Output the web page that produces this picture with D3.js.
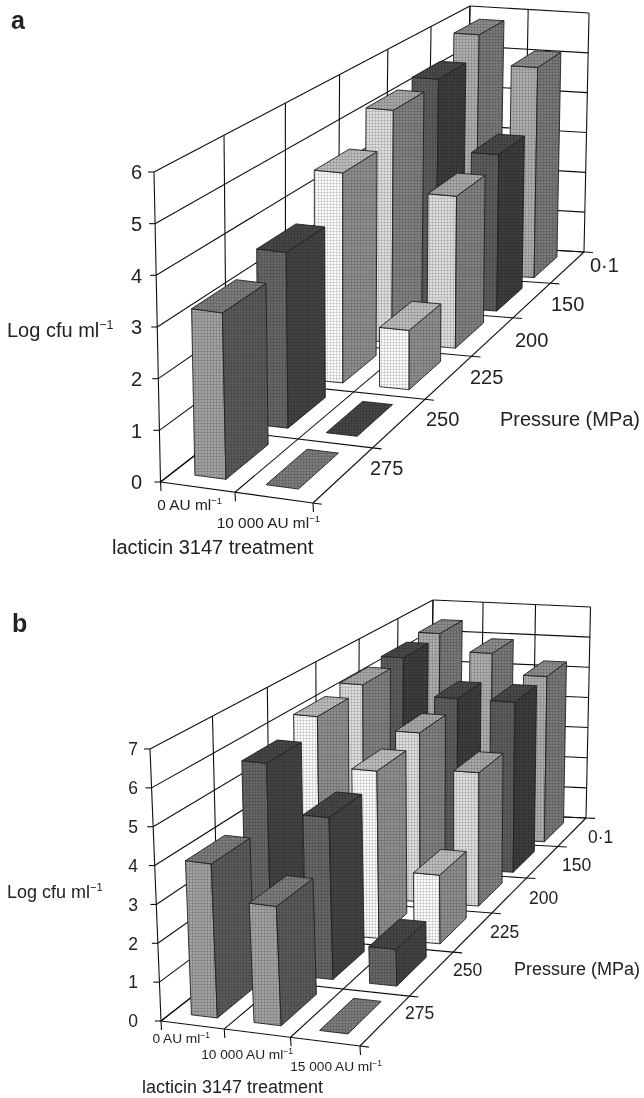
<!DOCTYPE html>
<html><head><meta charset="utf-8">
<script src="https://cdn.jsdelivr.net/npm/d3@7"></script>
<style>html,body{margin:0;padding:0;background:#fff}svg{display:block}text{font-family:"Liberation Sans",Arial,sans-serif;fill:#222}</style>
</head><body><div id="c"></div>
<script>
const pressures=["275","250","225","200","150","0·1"];
const treatmentsA=["0 AU ml","10 000 AU ml"];
const treatmentsB=["0 AU ml","10 000 AU ml","15 000 AU ml"];
const valuesA0=[3.25,3.6,4.5,5.2,5.3,5.8];
const valuesA1=[0,0,1.27,3.4,3.65,5.1];
const valuesB0=[4.0,5.7,6.15,6.3,6.4,6.5];
const valuesB1=[3.1,4.4,4.75,5.0,5.25,5.95];
const valuesB2=[0,1.0,1.95,3.95,5.25,5.3];
const ticksA=[0,1,2,3,4,5,6];
const ticksB=[0,1,2,3,4,5,6,7];
// front, side, top greys for each pressure row
const rowFront=["#a2a2a2","#666666","#fbfbfb","#dcdcdc","#5c5c5c","#adadad"];
const rowSide =["#5a5a5a","#434343","#8e8e8e","#808080","#3c3c3c","#787878"];
const rowTop  =["#7c7c7c","#474747","#bdbdbd","#a8a8a8","#4a4a4a","#8c8c8c"];

const W=644,H=1098;
const svg=d3.select("#c").append("svg").attr("width",W).attr("height",H).attr("viewBox",`0 0 ${W} ${H}`);
const defs=svg.append("defs");
const mesh=defs.append("pattern").attr("id","mesh").attr("width",3).attr("height",3).attr("patternUnits","userSpaceOnUse");
mesh.append("path").attr("d","M0 .5H3M.5 0V3").attr("stroke","#000").attr("stroke-opacity",.12).attr("stroke-width",1);
defs.append("filter").attr("id","soft").append("feGaussianBlur").attr("stdDeviation",.45);
const root=svg.append("g").attr("filter","url(#soft)");

function quad(p){ // unit square -> quad p[0](0,0) p[1](1,0) p[2](1,1) p[3](0,1)
  const [a,b,c,d]=p;
  const dx1=b[0]-c[0],dx2=d[0]-c[0],sx=a[0]-b[0]+c[0]-d[0];
  const dy1=b[1]-c[1],dy2=d[1]-c[1],sy=a[1]-b[1]+c[1]-d[1];
  const den=dx1*dy2-dx2*dy1;
  const g=(sx*dy2-dx2*sy)/den,h=(dx1*sy-sx*dy1)/den;
  const A=b[0]-a[0]+g*b[0],B=d[0]-a[0]+h*d[0],D=b[1]-a[1]+g*b[1],E=d[1]-a[1]+h*d[1];
  return (u,v)=>{const w=g*u+h*v+1;return [(A*u+B*v+a[0])/w,(D*u+E*v+a[1])/w];};
}
const line=d3.line();
function drawPanel(cfg){
  const g=root.append("g");
  const fl=quad(cfg.floor),ce=quad(cfg.ceil);
  const yMax=d3.max(cfg.ticks);
  const y=d3.scaleLinear().domain([0,yMax]).range([0,1]);
  const x=d3.scaleBand().domain(cfg.treatments).range(cfg.xRange).paddingInner(cfg.xPad);
  const xCell=d3.scaleBand().domain(cfg.treatments).range([0,1]);
  const z=d3.scaleBand().domain(pressures).range([.03,.965]).paddingInner(.333);
  const zCell=d3.scaleBand().domain(pressures).range([0,1]);
  const P=(u,v,val)=>{const a=fl(u,v),b=ce(u,v),t=y(val);return [a[0]+(b[0]-a[0])*t,a[1]+(b[1]-a[1])*t];};
  const seg=(a,b)=>g.append("path").attr("d",line([a,b])).attr("fill","none").attr("stroke","#111").attr("stroke-width",1.1);
  // walls
  cfg.ticks.forEach(t=>{
    seg(P(0,0,t),P(0,1,t)); seg(P(0,1,t),P(1,1,t));
    const q=P(0,0,t); seg(q,[q[0]-6,q[1]]);
    g.append("text").attr("x",cfg.tickX).attr("y",q[1]).attr("dy",".36em").attr("text-anchor","end").attr("font-size",cfg.tickSize).text(t);
  });
  const us=[0,...cfg.treatments.map(d=>xCell(d)+xCell.bandwidth())];
  const vs=[0,...pressures.map(d=>zCell(d)+zCell.bandwidth())];
  vs.forEach(v=>{seg(P(0,v,0),P(0,v,yMax));});
  us.forEach(u=>{seg(P(u,1,0),P(u,1,yMax));});
  // floor
  vs.forEach(v=>{const a=P(0,v,0),b=P(1,v,0);seg(a,b);
    const dx=b[0]-a[0],dy=b[1]-a[1],l=Math.hypot(dx,dy);
    seg(b,[b[0]+dx/l*9,b[1]+dy/l*9]);});
  us.forEach(u=>{const a=P(u,0,0);seg(a,P(u,1,0));seg(a,[a[0]+.5,a[1]+9]);});
  // bars: back rows first, left to right in each row
  [...pressures].reverse().forEach(p=>{
    const r=pressures.indexOf(p);
    cfg.treatments.forEach((t,ci)=>{
      const val=cfg.values[ci][r];
      const u0=x(t),u1=u0+x.bandwidth(),v0=z(p),v1=v0+z.bandwidth();
      const faces=[];
      if(val>0){
        faces.push({pts:[P(u0,v0,0),P(u1,v0,0),P(u1,v0,val),P(u0,v0,val)],fill:rowFront[r]});
        faces.push({pts:[P(u1,v0,0),P(u1,v1,0),P(u1,v1,val),P(u1,v0,val)],fill:rowSide[r]});
      }
      faces.push({pts:[P(u0,v0,val),P(u1,v0,val),P(u1,v1,val),P(u0,v1,val)],fill:rowTop[r]});
      faces.forEach(f=>{
        const d=line(f.pts)+"Z";
        g.append("path").attr("d",d).attr("fill",f.fill).attr("stroke","#222").attr("stroke-width",.9).attr("stroke-linejoin","round");
        g.append("path").attr("d",d).attr("fill","url(#mesh)");
      });
    });
  });
  // labels
  const mix=(el,txt,size)=>{el.append("tspan").text(txt);el.append("tspan").attr("dy",-size*.38).attr("font-size",size*.62).text("−1");};
  cfg.treatments.forEach((t,i)=>{
    const el=g.append("text").attr("x",cfg.xLabels[i][0]).attr("y",cfg.xLabels[i][1]).attr("font-size",cfg.xSize).attr("text-anchor","end");
    mix(el,t,cfg.xSize);
  });
  pressures.forEach((p,i)=>{
    g.append("text").attr("x",cfg.pLabels[i][0]).attr("y",cfg.pLabels[i][1]).attr("font-size",cfg.tickSize).text(p);
  });
  const yl=g.append("text").attr("x",cfg.yTitle[0]).attr("y",cfg.yTitle[1]).attr("font-size",cfg.titleSize);
  mix(yl,"Log cfu ml",cfg.titleSize);
  g.append("text").attr("x",cfg.pTitle[0]).attr("y",cfg.pTitle[1]).attr("font-size",cfg.titleSize).text("Pressure (MPa)");
  g.append("text").attr("x",cfg.xTitle[0]).attr("y",cfg.xTitle[1]).attr("font-size",cfg.titleSize).text("lacticin 3147 treatment");
  g.append("text").attr("x",cfg.letter[0]).attr("y",cfg.letter[1]).attr("font-size",25).attr("font-weight","bold").attr("fill","#111").text(cfg.name);
}
drawPanel({name:"a",
  treatments:treatmentsA,values:[valuesA0,valuesA1],ticks:ticksA,
  xRange:[.15,.835],xPad:.558,
  floor:[[160.5,482],[313,503],[584,252],[465.5,245]],
  ceil:[[154,172],[306,193],[589,13],[470,6]],
  tickX:142,tickSize:20,titleSize:20,xSize:15.4,
  xLabels:[[222,510],[320,528]],
  pLabels:[[370,475],[426,426],[470,384],[515,347],[551,311],[590,272]],
  yTitle:[7,337],pTitle:[500,426],xTitle:[112,554],letter:[11,29]});
drawPanel({name:"b",
  treatments:treatmentsB,values:[valuesB0,valuesB1,valuesB2],ticks:ticksB,
  xRange:[.105,.898],xPad:.58,
  floor:[[161,1021],[360,1046],[586,818],[430,811]],
  ceil:[[150,749],[350,775],[590.5,607],[433,600]],
  tickX:138,tickSize:17.5,titleSize:18,xSize:13.7,
  xLabels:[[210,1043],[293,1059],[382,1071]],
  pLabels:[[405,1019],[453,976],[490,938],[529,904],[562,871],[588,843]],
  yTitle:[7,898],pTitle:[514,975],xTitle:[142,1093],letter:[12,632]});
</script></body></html>
